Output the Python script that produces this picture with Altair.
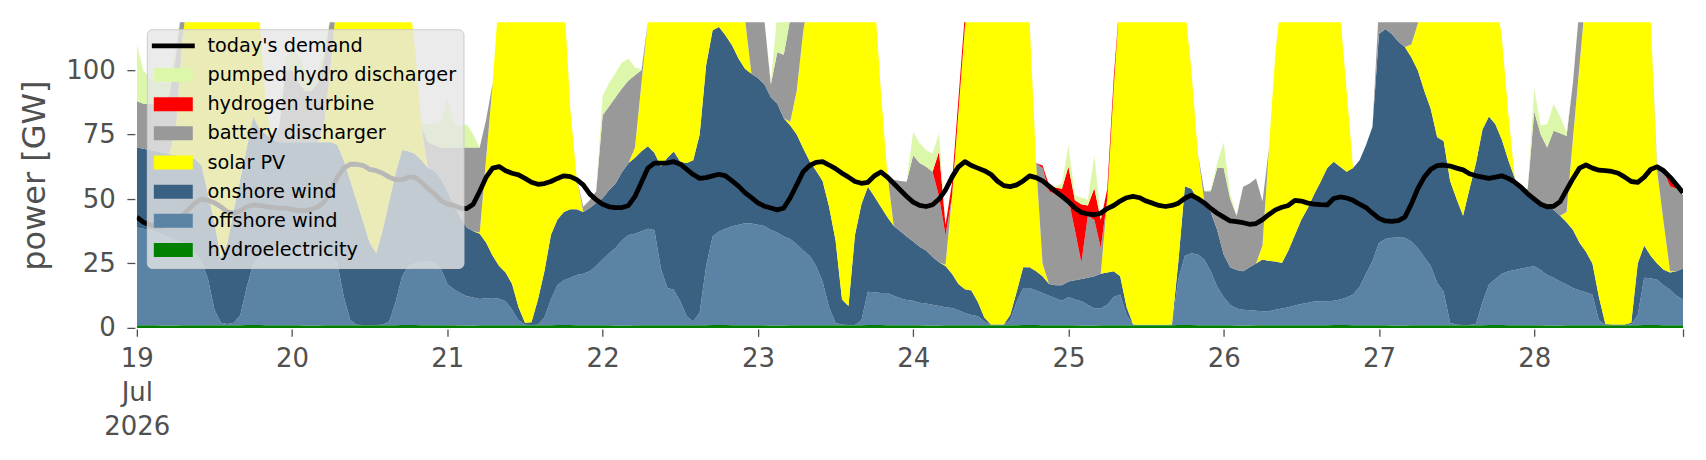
import numpy as np
import pandas as pd
import altair as alt

# hourly time axis, 19 Jul 2026 00:00 .. 28 Jul 2026 23:00
hours = pd.date_range("2026-07-19 00:00", periods=240, freq="h")

# value above the visible top of the axis (stack clipped there)
T = 130

# cumulative stack levels (GW), hourly
hydro_top = [
 1.0, 1.0, 1.0, 1.0, 0.9, 0.9, 0.9, 1.0, 1.0, 1.0, 1.0, 1.0, 1.0, 1.0, 1.0, 1.0, 1.0, 1.1, 1.1, 1.1, 1.0, 1.0, 1.0, 1.0,
 1.0, 1.0, 0.9, 0.9, 0.9, 1.0, 1.0, 1.0, 1.0, 1.0, 1.0, 1.0, 1.0, 1.0, 1.0, 1.0, 1.0, 1.1, 1.1, 1.1, 1.0, 1.0, 1.0, 1.0,
 1.0, 1.0, 0.9, 0.9, 0.9, 1.0, 1.0, 1.0, 1.0, 1.0, 1.0, 1.0, 1.0, 1.0, 1.0, 1.0, 1.0, 1.1, 1.1, 1.1, 1.0, 1.0, 1.0, 1.0,
 1.0, 1.0, 0.9, 0.9, 0.9, 1.0, 1.0, 1.0, 1.0, 1.0, 1.0, 1.0, 1.0, 1.0, 1.0, 1.0, 1.0, 1.1, 1.1, 1.1, 1.0, 1.0, 1.0, 1.0,
 1.0, 1.0, 0.9, 0.9, 0.9, 1.0, 1.0, 1.0, 1.0, 1.0, 1.0, 1.0, 1.0, 1.0, 1.0, 1.0, 1.0, 1.1, 1.1, 1.1, 1.0, 1.0, 1.0, 1.0,
 1.0, 1.0, 0.9, 0.9, 0.9, 1.0, 1.0, 1.0, 1.0, 1.0, 1.0, 1.0, 1.0, 1.0, 1.0, 1.0, 1.0, 1.1, 1.1, 1.1, 1.0, 1.0, 1.0, 1.0,
 1.0, 1.0, 0.9, 0.9, 0.9, 1.0, 1.0, 1.0, 1.0, 1.0, 1.0, 1.0, 1.0, 1.0, 1.0, 1.0, 1.0, 1.1, 1.1, 1.1, 1.0, 1.0, 1.0, 1.0,
 1.0, 1.0, 0.9, 0.9, 0.9, 1.0, 1.0, 1.0, 1.0, 1.0, 1.0, 1.0, 1.0, 1.0, 1.0, 1.0, 1.0, 1.1, 1.1, 1.1, 1.0, 1.0, 1.0, 1.0,
 1.0, 1.0, 0.9, 0.9, 0.9, 1.0, 1.0, 1.0, 1.0, 1.0, 1.0, 1.0, 1.0, 1.0, 1.0, 1.0, 1.0, 1.1, 1.1, 1.1, 1.0, 1.0, 1.0, 1.0,
 1.0, 1.0, 0.9, 0.9, 0.9, 1.0, 1.0, 1.0, 1.0, 1.0, 1.0, 1.0, 1.0, 1.0, 1.0, 1.0, 1.0, 1.1, 1.1, 1.1, 1.0, 1.0, 1.0, 1.0,
]

offshore_top = [
 39, 38.5, 38, 37, 36, 35, 34, 33, 31, 29, 26, 19, 7, 2, 1.5, 2, 5, 16, 25, 28, 30, 31, 32, 32,
 32, 32, 31.5, 31, 30, 29, 28, 25, 12, 3, 1.2, 1.1, 1.1, 1.1, 1.2, 2.5, 10, 20, 24, 25, 26, 26, 25, 23,
 17, 15, 13.5, 12.3, 11.8, 11.2, 11.5, 11.6, 11.3, 10.3, 7, 3, 1.2, 1.1, 1.2, 4, 11, 16.5, 18.5, 19.5, 20.5, 21, 22, 24,
 26.5, 29, 31, 34, 36, 36.5, 37.5, 38.5, 38, 23, 15.5, 14.8, 10.3, 4.5, 2.5, 6, 24, 35.5, 37.4, 38.5, 39.4, 40, 40.6, 40.5,
 40, 39.5, 38, 37, 35.5, 34.5, 32.5, 30, 28, 24, 18, 8, 2, 1.2, 1.1, 1.1, 3, 14, 13.8, 13.5, 13.5, 12.5, 11.5, 10.8,
 10.5, 9.8, 9.5, 9, 8.5, 8, 7.7, 6.8, 5.8, 5, 4.5, 2.5, 1.2, 1.1, 1.2, 3, 10, 15.5, 15.5, 14.5, 13.5, 12.5, 11.5, 10.5,
 12, 11, 10.3, 9, 7.5, 7.5, 9, 12, 13, 5, 1.2, 1.1, 1.1, 1.1, 1.1, 1.1, 1.2, 19, 28, 29, 28.5, 26.5, 22, 16,
 12, 9, 7.5, 7, 6.8, 6.6, 6.5, 6.5, 7, 7.5, 8, 8.7, 9.3, 9.8, 10.2, 10.3, 10.3, 10.5, 11, 11.8, 13, 16, 21, 26,
 33, 34.5, 35, 35.1, 35, 33.5, 31, 27.5, 24, 17.5, 14, 2, 1.2, 1.1, 1.1, 1.5, 10, 16.8, 19, 21, 22, 22.5, 23, 23.5,
 23.9, 22.5, 20.5, 19.5, 18, 16.8, 15.5, 14.5, 13.8, 12.9, 3, 1.2, 1.1, 1.1, 1.1, 1.3, 5, 19.5, 19.3, 18.7, 16.5, 14.8, 12.5, 11,
]

onshore_top = [
 70, 69.5, 69, 68.5, 68, 67.5, 67, 66.5, 66, 65.5, 63, 52, 41, 27, 33, 46, 58, 70, 82, 77, 75, 73, 72, 72,
 72, 72, 72, 72, 72, 72, 72, 71, 65, 57, 49, 41, 33, 29, 38, 49, 60, 69, 68.5, 67.5, 65, 62, 61, 58,
 53, 48, 43, 39, 37.5, 36.5, 33, 28, 24, 21.5, 17, 8, 2, 2.2, 11, 22, 36, 42, 45, 46, 46, 45, 46.5, 48.5,
 50.3, 53.5, 56, 60.5, 64, 66, 68.5, 70.5, 68, 62.6, 66, 68.4, 64.5, 64, 65, 75, 102, 115.5, 116.8, 113.5, 109.7, 104.5, 100.6, 98.6,
 97, 94.5, 89.5, 87, 81.3, 78.5, 75, 69.7, 64.7, 61, 57, 47, 34, 11, 8.5, 36, 48, 54.8, 51, 47, 43, 39.5, 37.5, 35.5,
 33.5, 31.5, 30, 27.5, 25.5, 24, 21, 17, 15, 14.5, 10, 4, 1.3, 1.3, 1.3, 5, 14, 23.5, 23.5, 22, 20, 17, 16.5, 16.5,
 18, 18.5, 19, 19.5, 20, 21, 21.5, 22, 20, 8, 1.3, 1.2, 1.2, 1.2, 1.2, 1.2, 1.3, 26, 55, 54, 50, 48, 45, 38,
 28.5, 23.5, 22.5, 22, 23.5, 25, 26.5, 26, 25.8, 25.2, 30, 36, 42, 46.5, 52, 56.8, 62, 64.5, 62.5, 60.6, 62, 65, 71, 78,
 114, 116, 114, 111, 109, 105, 100, 92, 85, 74, 72.5, 57, 50, 43.5, 54, 64, 77, 82, 79, 73, 65, 58, 53.5, 51.5,
 50, 49, 47.5, 45.8, 43.5, 41, 38, 33, 29.5, 25, 12, 1.5, 1.3, 1.3, 1.3, 2, 25, 32, 28, 25, 22.6, 21.5, 22, 23,
]

solar_top = [
 70, 69.5, 69, 68.5, 68, 67.5, 77, 111.5, T, T, T, T, T, T, T, T, T, T, T, 119.5, 85, 73, 72, 72,
 72, 72, 72, 72, 72, 80, 103, T, T, T, T, T, T, T, T, T, T, T, T, 108.5, 78, 62, 61, 58,
 53, 48, 43, 39, 37.5, 37, 66, 95, T, T, T, T, T, T, T, T, T, T, T, 85, 58, 45, 46.5, 48.5,
 50.3, 53.5, 56, 60.5, 64, 70, 95, 119, T, T, T, T, T, T, T, T, T, T, T, T, T, T, 120, 98.6,
 97, 94.5, 89.5, 87, 81.3, 80, 92, 115, T, T, T, T, T, T, T, T, T, T, T, 92, 60, 39.5, 37.5, 35.5,
 33.5, 31.5, 30, 27.5, 25.5, 24.5, 51, 84, 117, T, T, T, T, T, T, T, T, T, 119, 64, 25, 17, 16.5, 16.5,
 18, 18.5, 19, 19.5, 20, 21, 50, 93, T, T, T, T, T, T, T, T, T, T, 125, 100, 68, 49, 45, 38,
 28.5, 23.5, 22.5, 22, 23.5, 25, 32, 70, 107, T, T, T, T, T, T, T, T, T, 122, 92, 62, 65, 71, 78,
 114, 116, 114, 111, 109, 110, 118, T, T, T, T, T, T, T, T, T, T, T, T, 112.6, 83, 58, 53.5, 51.5,
 50, 49, 47.5, 45.8, 43.5, 45, 74, 102, T, T, T, T, T, T, T, T, T, T, 120, 61, 41, 22, 22, 23,
]

battery_top = [
 88, 87, 87, 87, 88, 90, 105, 126, T, T, T, T, T, T, T, T, T, T, T, 119.5, 85, 73, 78, 100,
 100, 95, 92, 92, 95, 105, 122, T, T, T, T, T, T, T, T, T, T, T, T, 108.5, 78, 72, 71, 70,
 70, 70, 70, 70, 70, 70, 81, 95, T, T, T, T, T, T, T, T, T, T, T, 85, 58, 47, 49.5, 53,
 82.5, 86, 89.5, 93, 96, 98, 100, 119, T, T, T, T, T, T, T, T, T, T, T, T, T, T, 120, 121,
 121, 119.5, 94.5, 107, 106, 120, 122, 125, T, T, T, T, T, T, T, T, T, T, T, 92, 60, 57.5, 57, 56.8,
 67, 64, 62.5, 60.6, 51, 36, 51, 84, 117, T, T, T, T, T, T, T, T, T, 119, 64, 62, 53, 52, 51,
 50, 38, 25.2, 43.5, 42, 31, 50, 93, T, T, T, T, T, T, T, T, T, T, 125, 100, 68, 53, 53, 62,
 62, 50, 43.5, 54.8, 56, 58, 49, 70, 107, T, T, T, T, T, T, T, T, T, 122, 92, 62, 65, 71, 78,
 125, 125, 125, 125, 125, 125, 128, T, T, T, T, T, T, T, T, T, T, T, T, 112.6, 83, 58, 53.5, 54,
 84, 75, 70, 76.5, 75.5, 74.5, 95.5, 125, T, T, T, T, T, T, T, T, T, T, 120, 62.6, 61, 55, 54, 51.6,
]

hydrogen_top = [
 88, 87, 87, 87, 88, 90, 105, 126, T, T, T, T, T, T, T, T, T, T, T, 119.5, 85, 73, 78, 100,
 100, 95, 92, 92, 95, 105, 122, T, T, T, T, T, T, T, T, T, T, T, T, 108.5, 78, 72, 71, 70,
 70, 70, 70, 70, 70, 70, 81, 95, T, T, T, T, T, T, T, T, T, T, T, 85, 58, 47, 49.5, 53,
 82.5, 86, 89.5, 93, 96, 98, 100, 119, T, T, T, T, T, T, T, T, T, T, T, T, T, T, 120, 121,
 121, 119.5, 94.5, 107, 106, 120, 122, 125, T, T, T, T, T, T, T, T, T, T, T, 92, 60, 57.5, 57, 56.8,
 67, 64, 62.5, 60.6, 68.4, 40, 56, 89, 122, T, T, T, T, T, T, T, T, T, 119, 64, 63, 55.5, 54.5, 54,
 62.6, 49.5, 48, 47.5, 54.2, 42, 54, 97, T, T, T, T, T, T, T, T, T, T, 125, 100, 68, 53, 53, 62,
 62, 50, 43.5, 54.8, 56, 58, 49, 70, 107, T, T, T, T, T, T, T, T, T, 122, 92, 62, 65, 71, 78,
 125, 125, 125, 125, 125, 125, 128, T, T, T, T, T, T, T, T, T, T, T, T, 112.6, 83, 58, 53.5, 54,
 84, 75, 70, 76.5, 75.5, 74.5, 95.5, 125, T, T, T, T, T, T, T, T, T, T, 120, 62.6, 61, 59, 54, 51.6,
]

pumped_top = [
 110, 100, 97, 95, 95, 95, 108, 126, T, T, T, T, T, T, T, T, T, T, T, 119.5, 85, 73, 78, 105,
 108, 106, 100, 98, 100, 108, 122, T, T, T, T, T, T, T, T, T, T, T, T, 108.5, 80, 79, 79, 80,
 89, 80, 78, 79, 75, 70, 81, 95, T, T, T, T, T, T, T, T, T, T, T, 85, 58, 47, 49.5, 53,
 90, 95, 99, 103, 104.5, 101, 100.5, 119, T, T, T, T, T, T, T, T, T, T, T, T, T, T, 120, 121,
 121, 119.5, 95.5, 122, 121, 120, 122, 125, T, T, T, T, T, T, T, T, T, T, T, 92, 60, 57.5, 57, 57,
 76, 71.6, 69, 67.7, 75.5, 40, 56, 89, 122, T, T, T, T, T, T, T, T, T, 119, 64, 63, 56, 55, 56,
 71, 51.6, 50.5, 49.7, 67, 43, 54, 97, T, T, T, T, T, T, T, T, T, T, 125, 100, 68, 53, 53.5, 64,
 72, 52, 44, 55, 56, 58, 49, 70, 107, T, T, T, T, T, T, T, T, T, 122, 92, 62, 65, 71, 78,
 125, 125, 125, 125, 125, 125, 128, T, T, T, T, T, T, T, T, T, T, T, T, 112.6, 83, 58, 53.5, 54,
 93, 78.5, 79, 87, 82, 76, 95.5, 125, T, T, T, T, T, T, T, T, T, T, 120, 62.6, 61, 59, 54, 51.6,
]

demand = [
 43, 41, 40, 39.5, 39.5, 40, 41.5, 43.5, 46, 48.5, 50, 49.5, 48.5, 47, 45, 44.5, 45.5, 47, 47.7, 47.5, 47, 46.8, 46.5, 46.5,
 46, 45.5, 45.5, 46, 47, 49, 53.5, 58.5, 62, 63.5, 63.5, 63, 61.5, 61, 60, 58.5, 57.5, 57.5, 58.5, 58.5, 56.5, 54, 52, 49.5,
 48, 47.5, 46.5, 46.3, 48, 53, 58.5, 62, 62.6, 61, 60, 59.4, 58, 56.5, 55.7, 56, 56.8, 58, 59, 58.7, 57.5, 55.5, 52, 49.7,
 48, 47, 46.7, 46.7, 47.5, 51, 56.5, 62, 63.9, 63.9, 64, 64.5, 63.5, 61.5, 59.5, 58, 58.3, 59, 59.6, 59, 57, 55, 52.5, 50.5,
 48.5, 47.2, 46.5, 45.8, 46.5, 50.5, 55.5, 60.6, 63, 64.2, 64.5, 63.2, 61.8, 60, 58.5, 56.8, 56.1, 56.5, 59, 60.5, 58.5, 56, 53.5, 51,
 48.8, 47.5, 47.1, 47.8, 50, 53.5, 58.5, 62.5, 64.5, 63, 62, 61, 59.6, 57, 55.2, 54.8, 55.5, 57, 59, 58.3, 57, 55, 53, 51,
 49, 46.5, 44.8, 44.2, 43.9, 44.5, 46.3, 47.5, 49.2, 50.5, 51, 50.5, 49.2, 48.4, 47.5, 47.1, 47.5, 48.4, 50.3, 51.5, 50.2, 48.5, 46.3, 44.5,
 43, 41.5, 41.2, 40.8, 40.2, 40.5, 42, 44, 45.8, 46.8, 47.5, 49.5, 49.2, 48.4, 48, 47.8, 47.7, 50.2, 50.8, 50.4, 49.5, 48, 46.7, 44.5,
 42.5, 41.5, 41.3, 41.6, 43, 48, 54, 58.5, 61.5, 63, 63.2, 62.8, 62, 61.3, 59.8, 59, 58.5, 58, 58.5, 59, 58, 56.5, 54.5, 52,
 50, 48, 47, 47.2, 49, 53.5, 58, 62, 63.2, 62, 61.2, 61, 60.7, 60, 58.5, 56.8, 56.5, 58.5, 61.5, 62.5, 61, 58.5, 55.5, 52.5,
]

tech_names = ["hydroelectricity", "offshore wind", "onshore wind", "solar PV",
              "battery discharger", "hydrogen turbine", "pumped hydro discharger"]
levels_in = [hydro_top, offshore_top, onshore_top, solar_top, battery_top, hydrogen_top, pumped_top]
for lv in levels_in + [demand]:
    assert len(lv) == 240, len(lv)

legend_order = ["today's demand", "pumped hydro discharger", "hydrogen turbine", "battery discharger",
                "solar PV", "onshore wind", "offshore wind", "hydroelectricity"]
legend_colors = ["rgba(0,0,0,0)", "#ddf7aa", "#ff0000", "#999999",
                 "#ffff00", "#3b6182", "#5b83a5", "#008000"]

# build the band table (each technology between its lower and upper stack level)
levels = np.maximum.accumulate(np.array(levels_in, dtype=float), axis=0)
lower = np.vstack([np.zeros(240), levels[:-1]])
ts = hours.strftime("%Y-%m-%dT%H:%M:%S")
frames = []
for k, name in enumerate(tech_names):
    frames.append(pd.DataFrame({"time": ts, "tech": name, "lo": lower[k], "hi": levels[k]}))
df_area = pd.concat(frames, ignore_index=True)
df_line = pd.DataFrame({"time": ts, "series": "today's demand", "demand": demand})

FONT = "DejaVu Sans"
GREY = "#505050"
LEG_X, LEG_Y, LEG_PAD, LEG_FS = 10, 7, 7, 19.3

day_ticks = [alt.DateTime(year=2026, month=7, date=d, hours=0) for d in range(19, 29)]
day_ticks.append(alt.DateTime(year=2026, month=7, date=28, hours=23))

x_axis = alt.Axis(
    values=day_ticks,
    labelExpr="hours(datum.value) == 23 ? '' : (date(datum.value) == 19 ? ['19', 'Jul', '2026'] : timeFormat(datum.value, '%d'))",
    labelFont=FONT, labelFontSize=26, labelColor=GREY, labelPadding=9, labelLineHeight=34,
    labelAlign="center", labelBaseline="top", labelOverlap=False, labelFlush=False,
    tickColor=GREY, tickSize=7.5, tickWidth=1.3, domain=False, grid=False, offset=1, title=None,
)
x_scale = alt.Scale(domain=[alt.DateTime(year=2026, month=7, date=19, hours=0),
                            alt.DateTime(year=2026, month=7, date=28, hours=23)], nice=False)

y_axis = alt.Axis(
    values=[0, 25, 50, 75, 100],
    labelFont=FONT, labelFontSize=26, labelColor=GREY, labelPadding=11.5,
    tickColor=GREY, tickSize=8, tickWidth=1.3, domain=False, grid=False, offset=2,
    title="power [GW]", titleFont=FONT, titleFontSize=32, titleFontWeight="normal", titleColor=GREY,
    titleX=-100, titleY=153, titleAngle=270, titleAlign="center", titleBaseline="middle",
)
y_scale = alt.Scale(domain=[0, 118.6], nice=False, zero=True)

areas = alt.Chart(df_area).mark_area(clip=True, opacity=1, interpolate="linear").encode(
    x=alt.X("time:T", scale=x_scale, axis=x_axis, title=None),
    y=alt.Y("hi:Q", scale=y_scale, axis=y_axis, title="power [GW]", stack=None),
    y2="lo:Q",
    fill=alt.Fill("tech:N", scale=alt.Scale(domain=legend_order, range=legend_colors),
                  legend=alt.Legend(
                      orient="none", legendX=LEG_X, legendY=LEG_Y, direction="vertical", title=None,
                      symbolType="M-2.786,-1H2.786V1H-2.786Z", symbolSize=196, symbolStrokeWidth=0,
                      symbolOffset=9.85, symbolOpacity=1,
                      labelFont=FONT, labelFontSize=LEG_FS, labelColor="black",
                      labelLimit=400, labelOffset=24.5, padding=LEG_PAD, rowPadding=9.2,
                      fillColor="rgba(230,230,230,0.8)", strokeColor="#cccccc", cornerRadius=5,
                      zindex=1)),
)

line = alt.Chart(df_line).mark_line(clip=True, strokeWidth=4.8, strokeJoin="round").encode(
    x=alt.X("time:T", scale=x_scale, axis=x_axis, title=None),
    y=alt.Y("demand:Q", scale=y_scale, axis=y_axis, title="power [GW]"),
    stroke=alt.Stroke("series:N", scale=alt.Scale(domain=["today's demand"], range=["#000000"]),
                      legend=alt.Legend(
                          orient="none", legendX=LEG_X, legendY=LEG_Y, direction="vertical", title=None,
                          symbolType="M-6.14,0H6.14", symbolSize=49, symbolStrokeWidth=4.8,
                          symbolOffset=9.85, symbolStrokeColor="black",
                          labelExpr="''", labelFont=FONT, labelFontSize=LEG_FS,
                          labelOffset=24.5, padding=LEG_PAD, zindex=2)),
)

chart = alt.layer(areas, line).properties(
    width=1548, height=306,
    padding={"left": 129, "top": 14, "right": 15, "bottom": 120},
    autosize=alt.AutoSizeParams(type="none"),
    background="white",
).configure_view(stroke=None)

chart.save("out.html", embed_options={"renderer": "svg", "actions": False})
